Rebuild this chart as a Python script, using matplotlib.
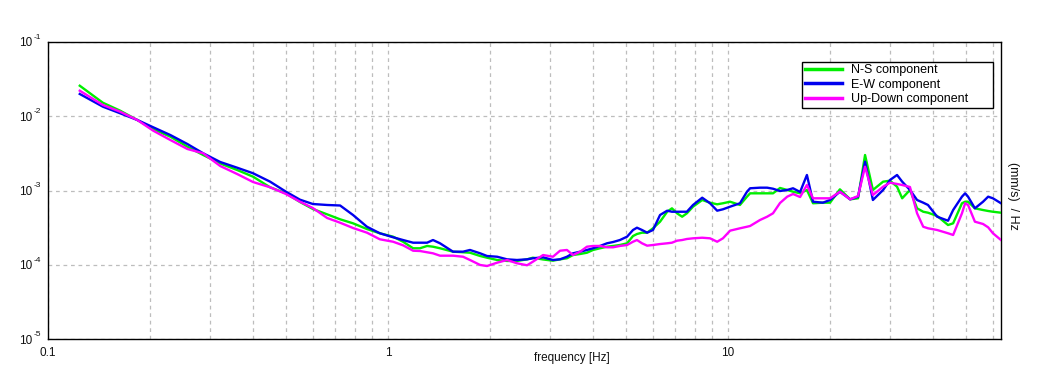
import numpy as np
import matplotlib
matplotlib.use("Agg")
import matplotlib.pyplot as plt
from matplotlib.ticker import FixedLocator, NullFormatter, LogLocator

plt.rcParams['font.family'] = ['Liberation Sans', 'DejaVu Sans']

# frequency [Hz]
freq = [0.124, 0.145, 0.163, 0.183, 0.204, 0.229, 0.257, 0.286, 0.321, 0.360,
        0.401, 0.450, 0.501, 0.551, 0.601, 0.662, 0.723, 0.789, 0.867, 0.946,
        1.035, 1.107, 1.185, 1.242, 1.303, 1.356, 1.422, 1.553, 1.662, 1.742,
        1.866, 1.955, 2.094, 2.239, 2.395, 2.564, 2.667, 2.858, 3.055, 3.206,
        3.359, 3.499, 3.673, 3.846, 4.008, 4.203, 4.406, 4.590, 4.808, 5.047,
        5.254, 5.397, 5.585, 5.781, 6.016, 6.310, 6.622, 6.839, 7.079, 7.328,
        7.568, 7.889, 8.395, 8.851, 9.290, 9.661, 10.14, 10.84, 11.37, 11.61,
        12.42, 13.03, 13.56, 14.22, 14.93, 15.53, 16.29, 17.06, 17.78, 19.01,
        19.95, 21.33, 22.86, 24.12, 25.29, 26.67, 28.58, 29.94, 31.41, 32.52,
        34.28, 35.97, 37.50, 38.73, 41.21, 44.36, 45.92, 48.75, 49.80, 50.80,
        53.21, 56.23, 58.21, 60.12, 63.5]

# log10 of spectral amplitude [(mm/s)/Hz]
ns_log = [-1.589, -1.818, -1.925, -2.050, -2.176, -2.275, -2.410, -2.522, -2.636, -2.724,
          -2.814, -2.957, -3.038, -3.155, -3.249, -3.321, -3.388, -3.442, -3.519, -3.576,
          -3.622, -3.690, -3.778, -3.778, -3.747, -3.757, -3.778, -3.824, -3.832, -3.838,
          -3.882, -3.905, -3.936, -3.949, -3.949, -3.927, -3.905, -3.929, -3.945, -3.927,
          -3.913, -3.869, -3.855, -3.838, -3.801, -3.778, -3.757, -3.747, -3.734, -3.711,
          -3.613, -3.586, -3.568, -3.568, -3.509, -3.420, -3.286, -3.240, -3.307, -3.353,
          -3.307, -3.218, -3.128, -3.164, -3.186, -3.172, -3.151, -3.195, -3.083, -3.038,
          -3.038, -3.038, -3.038, -2.966, -2.993, -3.016, -3.038, -2.993, -3.172, -3.164,
          -3.164, -2.984, -3.119, -3.105, -2.522, -2.993, -2.881, -2.868, -2.949, -3.105,
          -2.993, -3.240, -3.286, -3.299, -3.343, -3.465, -3.442, -3.172, -3.151, -3.151,
          -3.240, -3.263, -3.276, -3.286, -3.299]

ew_log = [-1.700, -1.871, -1.960, -2.050, -2.149, -2.253, -2.374, -2.499, -2.616, -2.693,
          -2.768, -2.881, -3.016, -3.124, -3.182, -3.195, -3.202, -3.330, -3.488, -3.576,
          -3.630, -3.667, -3.703, -3.703, -3.703, -3.667, -3.711, -3.824, -3.824, -3.801,
          -3.846, -3.882, -3.892, -3.927, -3.936, -3.927, -3.913, -3.900, -3.936, -3.927,
          -3.892, -3.846, -3.824, -3.801, -3.778, -3.747, -3.711, -3.694, -3.667, -3.622,
          -3.532, -3.501, -3.532, -3.568, -3.532, -3.330, -3.272, -3.286, -3.286, -3.286,
          -3.286, -3.195, -3.097, -3.172, -3.272, -3.253, -3.218, -3.172, -3.016, -2.970,
          -2.962, -2.962, -2.976, -3.007, -2.993, -2.970, -3.020, -2.791, -3.151, -3.164,
          -3.128, -3.016, -3.119, -3.083, -2.612, -3.128, -2.993, -2.859, -2.791, -2.881,
          -2.993, -3.128, -3.164, -3.195, -3.353, -3.407, -3.263, -3.083, -3.038, -3.083,
          -3.240, -3.151, -3.083, -3.105, -3.172]

ud_log = [-1.656, -1.848, -1.939, -2.050, -2.195, -2.320, -2.441, -2.499, -2.670, -2.778,
          -2.886, -2.957, -3.047, -3.151, -3.236, -3.370, -3.434, -3.505, -3.568, -3.657,
          -3.690, -3.738, -3.811, -3.815, -3.832, -3.846, -3.878, -3.878, -3.892, -3.936,
          -4.003, -4.017, -3.972, -3.936, -3.980, -4.007, -3.959, -3.869, -3.892, -3.811,
          -3.801, -3.869, -3.824, -3.757, -3.747, -3.747, -3.765, -3.765, -3.747, -3.734,
          -3.690, -3.667, -3.711, -3.743, -3.734, -3.721, -3.711, -3.703, -3.676, -3.667,
          -3.653, -3.644, -3.636, -3.644, -3.690, -3.644, -3.541, -3.509, -3.488, -3.478,
          -3.397, -3.353, -3.307, -3.168, -3.083, -3.047, -3.088, -2.926, -3.105, -3.105,
          -3.105, -3.016, -3.119, -3.074, -2.679, -3.061, -2.949, -2.895, -2.912, -2.926,
          -2.953, -3.307, -3.488, -3.509, -3.532, -3.576, -3.599, -3.307, -3.172, -3.195,
          -3.420, -3.451, -3.496, -3.576, -3.667]

series_labels = ["N-S component", "E-W component", "Up-Down component"]
series_colors = ["#00ee00", "#0000ee", "#ff00ff"]
y_exponents = [-5, -4, -3, -2, -1]
x_ticks = [0.1, 1, 10]
x_ticklabels = ['0.1', '1', '10']

W, H = 1051, 382
fig = plt.figure(figsize=(W / 100, H / 100), dpi=100)
x0, x1, y0, y1 = 48, 1001, 42, 339
ax = fig.add_axes([x0 / W, 1 - y1 / H, (x1 - x0) / W, (y1 - y0) / H])

f = np.array(freq)
for vals, lab, col in zip([ns_log, ew_log, ud_log], series_labels, series_colors):
    ax.plot(f, 10 ** np.array(vals), color=col, lw=1.7, label=lab, zorder=3)

ax.set_xscale('log')
ax.set_yscale('log')
ax.set_xlim(0.1, 63.5)
ax.set_ylim(1e-5, 1e-1)

ax.xaxis.set_major_locator(FixedLocator(x_ticks))
ax.xaxis.set_minor_locator(LogLocator(base=10, subs=np.arange(2, 10), numticks=20))
ax.xaxis.set_minor_formatter(NullFormatter())
ax.set_xticklabels(x_ticklabels)
ax.set_yticks([10.0 ** e for e in y_exponents])
ax.set_yticklabels(['10'] * len(y_exponents))
ax.yaxis.set_minor_locator(FixedLocator([]))

ax.tick_params(axis='both', which='both', length=0, colors='#111111')
ax.tick_params(axis='x', pad=6, labelsize=8.5)
ax.tick_params(axis='y', pad=11, labelsize=8.5)

# small exponents next to the "10" labels
for e in y_exponents:
    ax.annotate(str(e), xy=(0, 10.0 ** e), xycoords=('axes fraction', 'data'),
                xytext=(-10.0, 3.3), textcoords='offset points',
                ha='left', va='center', fontsize=6, color='#111111',
                annotation_clip=False)

grid_kw = dict(color='#bdbdbd', linestyle=(0, (3, 3)), linewidth=0.9)
ax.grid(True, which='major', axis='both', **grid_kw)
ax.grid(True, which='minor', axis='x', **grid_kw)
ax.set_axisbelow(True)
for s in ax.spines.values():
    s.set_color('black')
    s.set_linewidth(1.0)

fig.text(572 / W, 1 - 358 / H, 'frequency [Hz]', ha='center', va='center',
         fontsize=8.5, color='#111111')
fig.text(1013 / W, 1 - 196 / H, '(mm/s)  / Hz', ha='center', va='center',
         rotation=270, fontsize=9, color='#111111')

lx0 = (802 - x0) / (x1 - x0)
lx1 = (993 - x0) / (x1 - x0)
ly1 = (y1 - 62) / (y1 - y0)
ly0 = (y1 - 106) / (y1 - y0)
leg = ax.legend(loc='upper left', bbox_to_anchor=(lx0, ly0, lx1 - lx0, ly1 - ly0),
                mode='expand', borderaxespad=0, fancybox=False, framealpha=1,
                edgecolor='black', fontsize=9, handlelength=3.0, handletextpad=0.7,
                labelspacing=0.18, borderpad=0.2)
leg.get_frame().set_linewidth(1.0)
for line in leg.get_lines():
    line.set_linewidth(2.5)

fig.savefig('out.png', dpi=100)
